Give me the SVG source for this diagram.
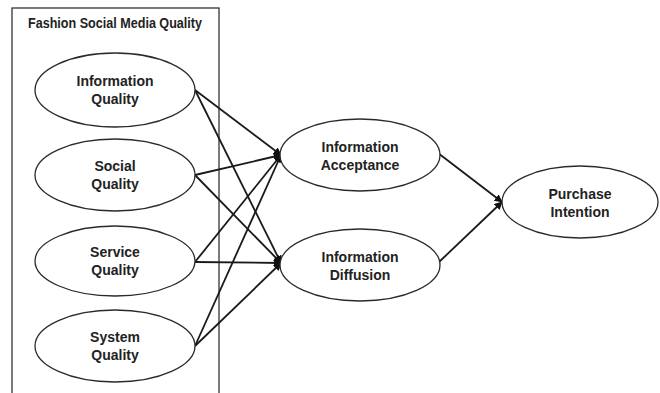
<svg xmlns="http://www.w3.org/2000/svg" width="660" height="393" viewBox="0 0 660 393">
<defs>
<style>
.node ellipse{fill:#fff;stroke:#2a2a2a;stroke-width:1.3}
text{font-family:"Liberation Sans",Arial,sans-serif;font-weight:bold;font-size:14px;fill:#222;text-anchor:middle}
.edge{stroke:#1a1a1a;stroke-width:1.8;fill:none;marker-end:url(#ah)}
</style>
<marker id="ah" viewBox="0 0 10 10" refX="9" refY="5" markerWidth="4.5" markerHeight="4.5" orient="auto" markerUnits="strokeWidth">
<path d="M0,0 L10,5 L0,10 z" fill="#111"/>
</marker>
</defs>
<rect width="660" height="393" fill="#fff"/>
<g id="group-box">
<rect x="12" y="8" width="207" height="400" fill="none" stroke="#333" stroke-width="1.3"/>
<text x="115" y="28" textLength="174" lengthAdjust="spacingAndGlyphs">Fashion Social Media Quality</text>
</g>
<g id="connectors">
<line class="edge" x1="195" y1="90" x2="281" y2="155"/>
<line class="edge" x1="195" y1="90" x2="281" y2="263"/>
<line class="edge" x1="195" y1="175" x2="281" y2="155"/>
<line class="edge" x1="195" y1="175" x2="281" y2="263"/>
<line class="edge" x1="195" y1="262" x2="281" y2="155"/>
<line class="edge" x1="195" y1="262" x2="281" y2="263"/>
<line class="edge" x1="195" y1="346" x2="281" y2="155"/>
<line class="edge" x1="195" y1="346" x2="281" y2="263"/>
<line class="edge" x1="438" y1="153" x2="502" y2="202"/>
<line class="edge" x1="438" y1="263" x2="502" y2="202"/>
</g>
<g id="information-quality" class="node">
<ellipse cx="115" cy="90" rx="80" ry="37"/>
<text x="115" y="86">Information</text>
<text x="115" y="104">Quality</text>
</g>
<g id="social-quality" class="node">
<ellipse cx="115" cy="175" rx="80" ry="36"/>
<text x="115" y="171">Social</text>
<text x="115" y="189">Quality</text>
</g>
<g id="service-quality" class="node">
<ellipse cx="115" cy="261" rx="80" ry="35"/>
<text x="115" y="257">Service</text>
<text x="115" y="275">Quality</text>
</g>
<g id="system-quality" class="node">
<ellipse cx="115" cy="346" rx="80" ry="36"/>
<text x="115" y="342">System</text>
<text x="115" y="360">Quality</text>
</g>
<g id="information-acceptance" class="node">
<ellipse cx="360" cy="155" rx="80" ry="36"/>
<text x="360" y="152">Information</text>
<text x="360" y="170">Acceptance</text>
</g>
<g id="information-diffusion" class="node">
<ellipse cx="360" cy="265" rx="80" ry="36"/>
<text x="360" y="262">Information</text>
<text x="360" y="280">Diffusion</text>
</g>
<g id="purchase-intention" class="node">
<ellipse cx="580" cy="202" rx="78" ry="36"/>
<text x="580" y="199">Purchase</text>
<text x="580" y="217">Intention</text>
</g>
</svg>
